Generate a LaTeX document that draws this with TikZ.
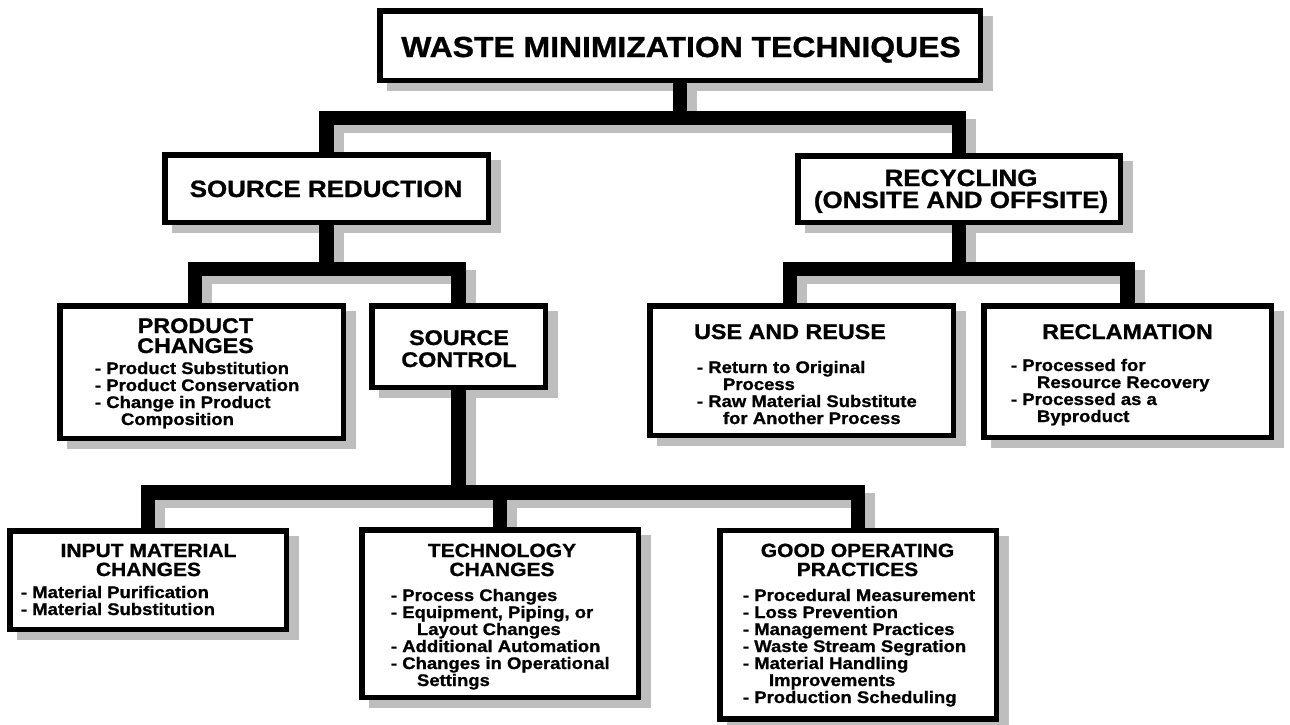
\documentclass[tikz,border=0pt]{standalone}
\usepackage{fontspec}
\setmainfont{Liberation Sans}[FakeStretch=1.1, FakeBold=1.0]
\usetikzlibrary{calc}
\definecolor{shgray}{RGB}{190,190,190}
\pgfdeclarelayer{bg}\pgfdeclarelayer{shadow}\pgfdeclarelayer{wires}
\pgfsetlayers{bg,shadow,wires,main}

% fonts
\newcommand\wmTitle{\fontsize{29}{30}\selectfont\bfseries}
\newcommand\wmBig{\fontsize{23.6}{25}\selectfont\bfseries}
\newcommand\wmMid{\fontsize{21.2}{22}\selectfont\bfseries}
\newcommand\wmSmall{\fontsize{19.1}{20}\selectfont\bfseries}
\newcommand\wmItem{\fontsize{16.8}{17}\selectfont\bfseries}

% stacked lines with a fixed baseline pitch (left / centred)
\newcommand\wmRows[2]{\vtop{\baselineskip=#1\lineskiplimit=-100pt\lineskip=0pt\halign{##\hfil\cr#2\crcr}}}
\newcommand\wmCRows[2]{\vtop{\baselineskip=#1\lineskiplimit=-100pt\lineskip=0pt\halign{\hfil##\hfil\cr#2\crcr}}}
\newcommand\wmCont{\hspace*{26pt}}

% a thick connector with its drop shadow
\newcommand\wmWire[1]{%
  \begin{pgfonlayer}{shadow}\draw[wireshade] #1;\end{pgfonlayer}%
  \begin{pgfonlayer}{wires}\draw[wire] #1;\end{pgfonlayer}}
% drop shadow of a box
\newcommand\wmShade[1]{%
  \begin{pgfonlayer}{shadow}\path[boxshade] (#1.north west) rectangle (#1.south east);\end{pgfonlayer}}

\tikzset{
  box/.style={rectangle, draw=black, line width=5.5pt, fill=white, inner sep=0pt, outer sep=0pt},
  boxshade/.style={fill=shgray, draw=shgray, line width=5.5pt, transform canvas={xshift=10pt,yshift=-8pt}},
  wire/.style={draw=black, line width=14.5pt, line join=miter, line cap=butt},
  wireshade/.style={wire, draw=shgray, transform canvas={xshift=10pt,yshift=-8pt}},
  txt/.style={inner sep=0pt, outer sep=0pt, anchor=base},
  lst/.style={inner sep=0pt, outer sep=0pt, anchor=base west, font=\wmItem},
}

\begin{document}
\begin{tikzpicture}[x=1pt,y=-1pt]
\useasboundingbox (0,0) rectangle (1290,724);
\begin{pgfonlayer}{bg}
  \fill[white] (0,0) rectangle (1290,724);
\end{pgfonlayer}

% ---- boxes
\node[box, minimum width=600.5pt, minimum height=69.5pt]  (top)  at (680,45.5) {};
\node[box, minimum width=323.5pt, minimum height=67.5pt]  (sr)   at (326.5,188.5) {};
\node[box, minimum width=322.5pt, minimum height=66.5pt]  (rc)   at (959,189) {};
\node[box, minimum width=283.5pt, minimum height=132.5pt] (pc)   at (201.5,372) {};
\node[box, minimum width=173.5pt, minimum height=81.5pt]  (sc)   at (458.5,346.5) {};
\node[box, minimum width=303.5pt, minimum height=129.5pt] (ur)   at (801.5,370.5) {};
\node[box, minimum width=287.5pt, minimum height=131.5pt] (recl) at (1127.5,371.5) {};
\node[box, minimum width=276.5pt, minimum height=98.5pt]  (inp)  at (148,580) {};
\node[box, minimum width=276.5pt, minimum height=167.5pt] (tech) at (500,613.5) {};
\node[box, minimum width=276.5pt, minimum height=188.5pt] (gop)  at (858,624.5) {};

\foreach \b in {top,sr,rc,pc,sc,ur,recl,inp,tech,gop}{\wmShade{\b}}

% ---- connectors
\coordinate (j1) at (680,118);
\coordinate (j2) at (326.5,269);
\coordinate (j3) at (959,269);
\coordinate (j4) at (458.5,492.5);

\wmWire{(top.south) -- (j1)}
\wmWire{(sr.north) |- (j1) -| (rc.north)}

\wmWire{(sr.south) -- (j2)}
\wmWire{([xshift=-6.5pt]pc.north) |- (j2) -| (sc.north)}

\wmWire{(rc.south) -- (j3)}
\wmWire{([xshift=-11.5pt]ur.north) |- (j3) -| (recl.north)}

\wmWire{(sc.south) -- (j4)}
\wmWire{(inp.north) |- (j4) -| (gop.north)}
\wmWire{(tech.north) -- (tech.north |- j4)}

% ---- texts
\node[txt, font=\wmTitle] (top-t) at (681,57) {WASTE MINIMIZATION TECHNIQUES};
\node[txt, font=\wmBig] (sr-t) at (326,197) {SOURCE REDUCTION};
\node[txt, font=\wmBig] (rc-t) at (961,186) {\wmCRows{22pt}{RECYCLING\cr (ONSITE AND OFFSITE)}};

\node[txt, font=\wmMid] (pc-t) at (195.5,333) {\wmCRows{20pt}{PRODUCT\cr CHANGES}};
\node[lst] (pc-l) at (95,374) {\wmRows{17pt}{- Product Substitution\cr - Product Conservation\cr - Change in Product\cr \wmCont Composition}};

\node[txt, font=\wmMid] (sc-t) at (459,345) {\wmCRows{22pt}{SOURCE\cr CONTROL}};

\node[txt, font=\wmMid] (ur-t) at (790,339) {USE AND REUSE};
\node[lst] (ur-l) at (697,373) {\wmRows{17pt}{- Return to Original\cr \wmCont Process\cr - Raw Material Substitute\cr \wmCont for Another Process}};

\node[txt, font=\wmMid] (recl-t) at (1127.5,339) {RECLAMATION};
\node[lst] (recl-l) at (1011,371) {\wmRows{17pt}{- Processed for\cr \wmCont Resource Recovery\cr - Processed as a\cr \wmCont Byproduct}};

\node[txt, font=\wmSmall] (inp-t) at (148.5,557) {\wmCRows{19pt}{INPUT MATERIAL\cr CHANGES}};
\node[lst] (inp-l) at (21,598) {\wmRows{17pt}{- Material Purification\cr - Material Substitution}};

\node[txt, font=\wmSmall] (tech-t) at (502,557) {\wmCRows{19pt}{TECHNOLOGY\cr CHANGES}};
\node[lst] (tech-l) at (391,601) {\wmRows{17pt}{- Process Changes\cr - Equipment, Piping, or\cr \wmCont Layout Changes\cr - Additional Automation\cr - Changes in Operational\cr \wmCont Settings}};

\node[txt, font=\wmSmall] (gop-t) at (857.5,557) {\wmCRows{19pt}{GOOD OPERATING\cr PRACTICES}};
\node[lst] (gop-l) at (743,601) {\wmRows{17pt}{- Procedural Measurement\cr - Loss Prevention\cr - Management Practices\cr - Waste Stream Segration\cr - Material Handling\cr \wmCont Improvements\cr - Production Scheduling}};
\end{tikzpicture}
\end{document}
